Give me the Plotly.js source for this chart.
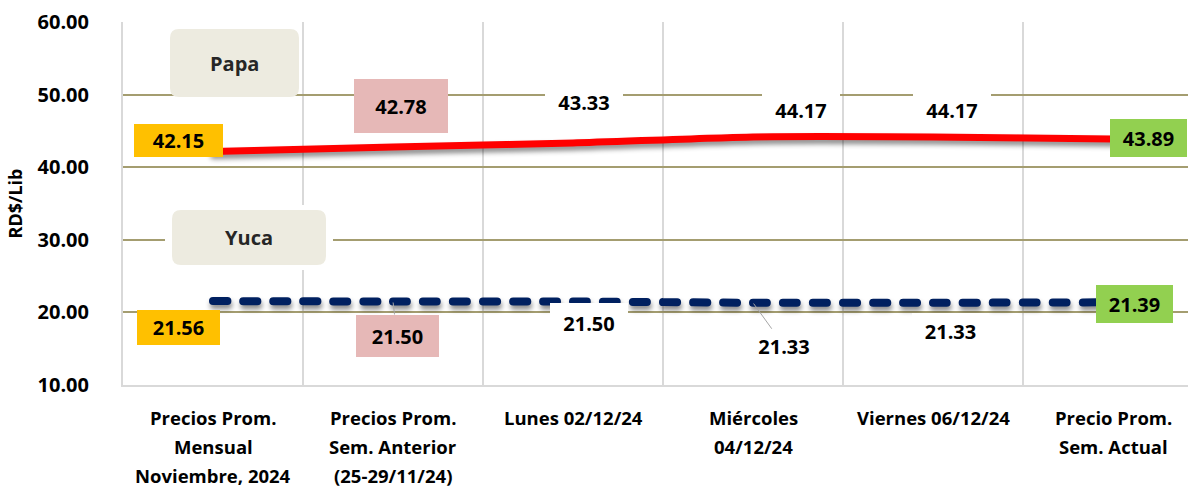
<!DOCTYPE html>
<html>
<head>
<meta charset="utf-8">
<script src="https://cdn.plot.ly/plotly-3.0.1.min.js"></script>
<style>
html,body{margin:0;padding:0;background:#ffffff;}
#chart{width:1188px;height:489px;}
.scatterlayer .js-line{stroke-linecap:round;filter:drop-shadow(1px 4px 2.5px rgba(0,0,0,0.45));}
</style>
</head>
<body>
<div id="chart"></div>
<script>
// ---- data ----
const categories = [
  "Precios Prom.<br>Mensual<br>Noviembre, 2024",
  "Precios Prom.<br>Sem. Anterior<br>(25-29/11/24)",
  "Lunes 02/12/24",
  "Miércoles<br>04/12/24",
  "Viernes 06/12/24",
  "Precio Prom.<br>Sem. Actual"
];
const papa = [42.15, 42.78, 43.33, 44.17, 44.17, 43.89];
const yuca = [21.56, 21.50, 21.50, 21.33, 21.33, 21.39];
const seriesNames = ["Papa", "Yuca"];
const yTickVals = [10, 20, 30, 40, 50, 60];
const yTickText = ["10.00", "20.00", "30.00", "40.00", "50.00", "60.00"];
const yAxisTitle = "RD$/Lib";

// ---- styling (positions / colours of labels) ----
const FONT = "'Open Sans', 'Noto Sans', sans-serif";
const ORANGE = "#ffc000", PINK = "#e6b8b7", GREEN = "#92d050", WHITE = "#ffffff";
const papaLabelStyle = [
  {dx:-35, dy:-11, bg:ORANGE, w:89, h:33, lead:false},
  {dx:8,   dy:-41, bg:PINK,   w:94, h:54, lead:false},
  {dx:11,  dy:-41, bg:WHITE,  w:78, h:34, lead:false},
  {dx:48,  dy:-27, bg:WHITE,  w:78, h:34, lead:false},
  {dx:19,  dy:-27, bg:WHITE,  w:78, h:34, lead:false},
  {dx:35,  dy:-1,  bg:GREEN,  w:77, h:38, lead:false}
];
const yucaLabelStyle = [
  {dx:-35, dy:26, bg:ORANGE, w:83, h:35, lead:false},
  {dx:4,   dy:34, bg:PINK,   w:83, h:42, lead:true},
  {dx:16,  dy:21, bg:WHITE,  w:78, h:40, lead:false},
  {dx:31,  dy:43, bg:WHITE,  w:70, h:34, lead:true},
  {dx:17,  dy:28, bg:WHITE,  w:77, h:36, lead:false},
  {dx:21,  dy:2,  bg:GREEN,  w:77, h:38, lead:false}
];

const W = 1188, H = 489;
const M = {l:123, r:0, t:22, b:104};
const plotW = W - M.l - M.r, plotH = H - M.t - M.b;
const catPx = 180;
const xRange = [-0.5, -0.5 + plotW / catPx];

const xIdx = categories.map((c, i) => i);

const traces = [
  {
    x: xIdx, y: papa, name: seriesNames[0], type: "scatter", mode: "lines",
    line: {color: "#ff0000", width: 7, shape: "spline", smoothing: 0.6},
    hoverinfo: "skip"
  },
  {
    x: xIdx, y: yuca, name: seriesNames[1], type: "scatter", mode: "lines",
    line: {color: "#002060", width: 8, dash: "14px,16px", shape: "spline", smoothing: 0.6},
    hoverinfo: "skip"
  }
];

const annotations = [];
function addLabels(vals, styles) {
  vals.forEach((v, i) => {
    const s = styles[i];
    annotations.push({
      x: i, y: v, xref: "x", yref: "y",
      text: v.toFixed(2),
      showarrow: true, ax: s.dx, ay: s.dy, axref: "pixel", ayref: "pixel",
      arrowhead: 0, arrowwidth: 1, standoff: 1,
      arrowcolor: s.lead ? "#a6a6a6" : "rgba(0,0,0,0)",
      bgcolor: s.bg, width: s.w, height: s.h, borderpad: 0, borderwidth: 0,
      align: "center", valign: "middle",
      font: {family: FONT, size: 20, color: "#000000", weight: 700}
    });
  });
}
addLabels(papa, papaLabelStyle);
addLabels(yuca, yucaLabelStyle);

// category labels (multi-line, Excel-like line spacing)
categories.forEach((c, i) => {
  c.split("<br>").forEach((line, j) => {
    annotations.push({
      x: i, y: 0, xref: "x", yref: "paper",
      yanchor: "middle", xanchor: "center",
      yshift: -32 - 29 * j, borderpad: 0,
      text: line, showarrow: false,
      font: {family: FONT, size: 18.5, color: "#000000", weight: 700}
    });
  });
});

// pixel -> paper helpers
const px = x => (x - M.l) / plotW;
const py = y => (M.t + plotH - y) / plotH;
function roundRect(x0, y0, x1, y1, r) {
  const P = (x, y) => px(x) + "," + py(y);
  return "M" + P(x0 + r, y0) + " L" + P(x1 - r, y0) + " Q" + P(x1, y0) + " " + P(x1, y0 + r) +
    " L" + P(x1, y1 - r) + " Q" + P(x1, y1) + " " + P(x1 - r, y1) +
    " L" + P(x0 + r, y1) + " Q" + P(x0, y1) + " " + P(x0, y1 - r) +
    " L" + P(x0, y0 + r) + " Q" + P(x0, y0) + " " + P(x0 + r, y0) + " Z";
}
const legendBoxes = [
  {name: seriesNames[0], x0:170, y0:29, x1:299, y1:97, margin:false},
  {name: seriesNames[1], x0:172, y0:210, x1:326, y1:265, margin:true}
];
const shapes = [];
legendBoxes.forEach(b => {
  if (b.margin) {
    shapes.push({type:"rect", xref:"paper", yref:"paper",
      x0: px(b.x0 - 7), x1: px(b.x1 + 7), y0: py(b.y1 + 5), y1: py(b.y0 - 5),
      fillcolor:"#ffffff", line:{width:0}, layer:"above"});
  }
  shapes.push({type:"path", xref:"paper", yref:"paper", path: roundRect(b.x0, b.y0, b.x1, b.y1, 9),
    fillcolor:"#edebe0", line:{width:0}, layer:"above"});
  annotations.push({
    xref:"paper", yref:"paper", x: px((b.x0 + b.x1) / 2), y: py((b.y0 + b.y1) / 2),
    xanchor:"center", yanchor:"middle", text: b.name, showarrow:false,
    font:{family: FONT, size: 20, color:"#262626", weight: 700}
  });
});

const boundaries = categories.map((c, i) => i - 0.5).concat([categories.length - 0.5]);

const layout = {
  width: W, height: H,
  margin: M,
  paper_bgcolor: "#ffffff", plot_bgcolor: "#ffffff",
  showlegend: false,
  font: {family: FONT, color: "#000000"},
  xaxis: {
    range: xRange, tickmode: "array", tickvals: boundaries, showticklabels: false,
    showgrid: true, gridcolor: "#d9d9d9", gridwidth: 2, zeroline: false,
    showline: true, linecolor: "#d9d9d9", linewidth: 2, ticks: "", fixedrange: true
  },
  yaxis: {
    range: [10, 60], tickmode: "array", tickvals: yTickVals, ticktext: yTickText,
    showgrid: true, gridcolor: "#a49d70", gridwidth: 2, zeroline: false,
    showline: true, linecolor: "#d9d9d9", linewidth: 2, ticks: "",
    ticklabelstandoff: 28,
    tickfont: {family: FONT, size: 20, color: "#000000", weight: 700},
    title: {text: yAxisTitle, standoff: 10, font: {family: FONT, size: 18, color: "#000000", weight: 700}},
    automargin: false, fixedrange: true
  },
  shapes: shapes,
  annotations: annotations
};

Plotly.newPlot("chart", traces, layout, {displayModeBar: false, staticPlot: true});
</script>
</body>
</html>
